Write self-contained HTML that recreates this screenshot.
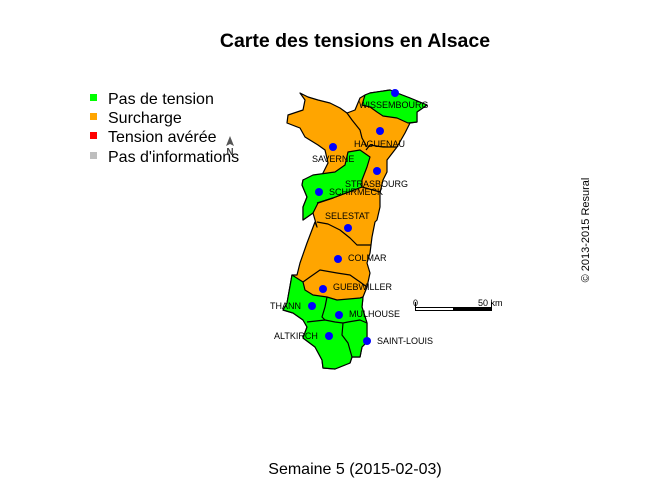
<!DOCTYPE html>
<html><head><meta charset="utf-8"><style>
body{margin:0;background:#fff;}
svg{display:block;font-family:"Liberation Sans",sans-serif;}
</style></head><body>
<svg width="672" height="480" viewBox="0 0 672 480">
<text x="355" y="47" text-anchor="middle" font-size="19.5" font-weight="bold">Carte des tensions en Alsace</text>
<g font-size="16">
<rect x="90" y="94" width="7" height="7" fill="#00ff00"/><text x="108" y="104">Pas de tension</text>
<rect x="90" y="113" width="7" height="7" fill="#ffa500"/><text x="108" y="123">Surcharge</text>
<rect x="90" y="132" width="7" height="7" fill="#ff0000"/><text x="108" y="142">Tension avérée</text>
<rect x="90" y="152" width="7" height="7" fill="#bebebe"/><text x="108" y="162">Pas d'informations</text>
</g>
<g>
<polygon points="230,136 234,146 230,144 226,146" fill="#555"/>
<text x="230" y="155" text-anchor="middle" font-size="10" font-weight="bold" fill="#444">N</text>
</g>
<g stroke="#000" stroke-width="1.2" stroke-linejoin="round">
<polygon fill="#ffa500" points="300,93 305,100 303,110 288,115 287,123 300,128 305,137 318,145 325,150 328,163 322,175 310,178 303,180 302,185 307,197 303,207 303,220 313,213 317,227 315,222 307,243 300,263 297,275 292,275 287,303 283,310 293,313 303,320 307,327 303,338 315,347 322,360 323,368 335,369 350,363 352,357 360,357 362,347 367,342 367,323 362,307 363,297 367,287 370,273 367,263 370,253 372,237 375,222 377,220 380,207 380,193 383,180 387,172 387,160 397,147 405,133 410,123 417,122 417,112 427,105 410,98 397,93 390,90 370,93 365,95 360,98 355,110 347,113 340,108 330,103 318,100 308,97"/>
<polygon fill="#00ff00" points="365,95 370,93 390,90 397,93 410,98 427,105 417,112 417,122 408,123 397,118 383,116 377,112 370,107 362,105"/>
<polygon fill="#00ff00" points="303,180 313,175 335,172 345,165 348,152 360,150 370,157 367,167 362,180 362,187 333,198 318,203 313,213 303,220 303,207 307,197 302,185"/>
<polygon fill="#00ff00" points="292,275 303,282 305,290 313,295 327,297 337,300 360,298 363,297 362,307 367,323 367,342 362,347 360,357 352,357 350,363 335,369 323,368 322,360 315,347 303,338 307,327 303,320 293,313 283,310 287,303"/>
<polyline fill="none" points="347,113 352,120 360,130 362,138 367,147"/>
<polyline fill="none" points="366,150 370,145 383,147 397,147"/>
<polyline fill="none" points="317,203 333,198 362,187 380,192"/>
<polyline fill="none" points="317,222 328,224 340,230 350,238 357,245 371,245"/>
<polyline fill="none" points="303,282 310,277 320,270 337,273 350,275 360,282 367,287"/>
<polyline fill="none" points="327,297 325,307 322,317 325,320"/>
<polyline fill="none" points="307,322 325,320 335,322 343,323 348,322 360,320 367,323"/>
<polyline fill="none" points="343,323 342,335 348,343 352,357"/>
</g>
<g id="cities" font-size="9"></g>
<g>
<rect x="415.5" y="307.5" width="38" height="3" fill="#fff" stroke="#000"/>
<rect x="453.5" y="307.5" width="38" height="3" fill="#000" stroke="#000"/>
<line x1="415.5" y1="302" x2="415.5" y2="308" stroke="#000"/>
<line x1="491.5" y1="302" x2="491.5" y2="308" stroke="#000"/>
<text x="413" y="306" font-size="9">0</text>
<text x="478" y="306" font-size="9">50 km</text>
</g>
<text transform="translate(589,230) rotate(-90)" text-anchor="middle" font-size="11">© 2013-2015 Resural</text>
<text x="355" y="474" text-anchor="middle" font-size="16">Semaine 5 (2015-02-03)</text>
</svg>
<script>
const cityNames=["WISSEMBOURG","HAGUENAU","SAVERNE","STRASBOURG","SCHIRMECK","SELESTAT","COLMAR","GUEBWILLER","THANN","MULHOUSE","ALTKIRCH","SAINT-LOUIS"];
const cityX=[395,380,333,377,319,348,338,323,312,339,329,367];
const cityY=[93,131,147,171,192,228,259,289,306,315,336,341];
const labelX=[359,354,312,345,329,325,348,333,270,349,274,377];
const labelY=[108,147,162,187,195,219,261,290,309,317,339,344];
const g=document.getElementById('cities');
const ns="http://www.w3.org/2000/svg";
cityNames.forEach((n,i)=>{
 const c=document.createElementNS(ns,'circle');
 c.setAttribute('cx',cityX[i]);c.setAttribute('cy',cityY[i]);c.setAttribute('r',4);c.setAttribute('fill','#0000ff');
 
 
 g.appendChild(c);
 const t=document.createElementNS(ns,'text');
 t.setAttribute('x',labelX[i]);t.setAttribute('y',labelY[i]);t.textContent=n;
 
 
 g.appendChild(t);
});
</script>
</body></html>
